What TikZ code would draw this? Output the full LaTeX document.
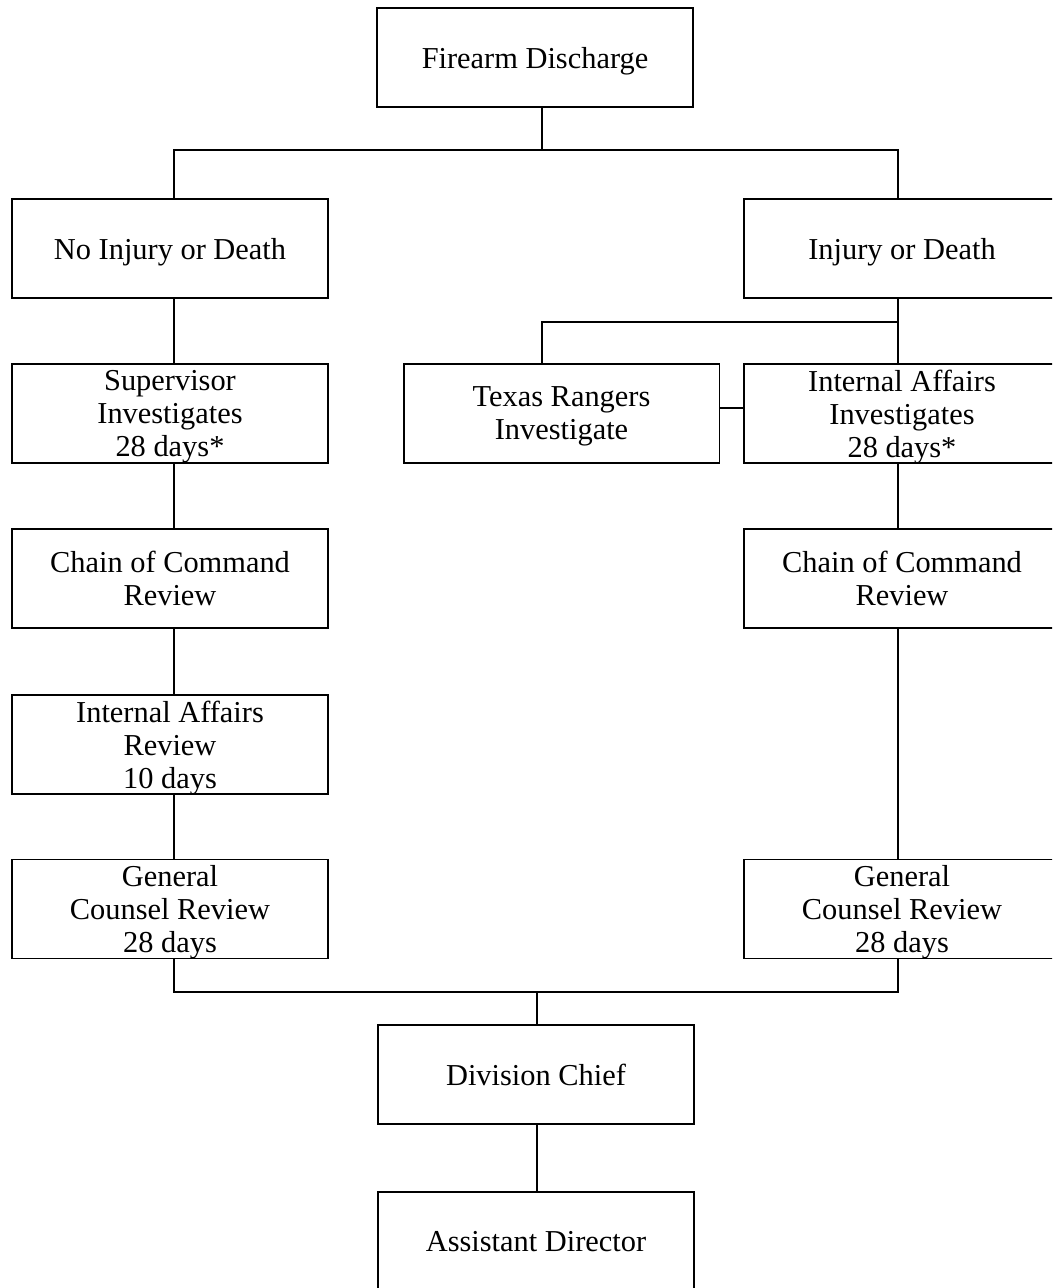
\documentclass[tikz,border=0pt]{standalone}
\usepackage{fontspec}
\setmainfont{Liberation Serif}
\begin{document}
\begin{tikzpicture}[x=0.02cm, y=-0.02cm, line width=1.1pt,
    box/.style={draw, minimum width=6.32cm, minimum height=1.98cm, inner sep=0pt,
      align=center, text depth=-6pt, font=\fontsize{17.3}{18.8}\selectfont}]
    \useasboundingbox (0,0) rectangle (1052,1288);
    \clip (0,0) rectangle (1052,1288);
    % columns and rows of the connectors
    \coordinate (L) at (174,0);
    \coordinate (M) at (542,0);
    \coordinate (R) at (898,0);
    \coordinate (C) at (537,0);
    \coordinate (top) at (0,150);
    \coordinate (split) at (0,322);
    \coordinate (link) at (0,408);
    \coordinate (join) at (0,992);
    % boxes
    \node[box] (fd) at (535,57.5) {Firearm Discharge};
    \node[box] (noinj) at (170,248.5) {No Injury or Death};
    \node[box] (inj) at (902,248.5) {Injury or Death};
    \node[box] (sup) at (170,413.5) {Supervisor\\Investigates\\28 days*};
    \node[box] (tr) at (561.5,413.5) {Texas Rangers\\Investigate};
    \node[box] (iainv) at (902,413.5) {Internal Affairs\\Investigates\\28 days*};
    \node[box] (coc1) at (170,578.5) {Chain of Command\\Review};
    \node[box] (coc2) at (902,578.5) {Chain of Command\\Review};
    \node[box] (iar) at (170,744.5) {Internal Affairs\\Review\\10 days};
    \node[box] (gc1) at (170,909) {General\\Counsel Review\\28 days};
    \node[box] (gc2) at (902,909) {General\\Counsel Review\\28 days};
    \node[box] (dc) at (536,1074.5) {Division Chief};
    \node[box] (ad) at (536,1241.5) {Assistant Director};
    % connectors
    \draw (fd.south -| M) -- (M |- top);
    \draw (noinj.north -| L) -- (L |- top) -- (R |- top) -- (inj.north -| R);
    \draw (inj.south -| R) -- (iainv.north -| R);
    \draw (tr.north -| M) -- (M |- split) -- (R |- split);
    \draw (tr.east |- link) -- (iainv.west |- link);
    \foreach \a/\b in {noinj/sup, sup/coc1, coc1/iar, iar/gc1}
      \draw (\a.south -| L) -- (\b.north -| L);
    \foreach \a/\b in {iainv/coc2, coc2/gc2}
      \draw (\a.south -| R) -- (\b.north -| R);
    \draw (gc1.south -| L) -- (L |- join) -- (R |- join) -- (gc2.south -| R);
    \draw (C |- join) -- (dc.north -| C);
    \draw (dc.south -| C) -- (ad.north -| C);
\end{tikzpicture}
\end{document}
